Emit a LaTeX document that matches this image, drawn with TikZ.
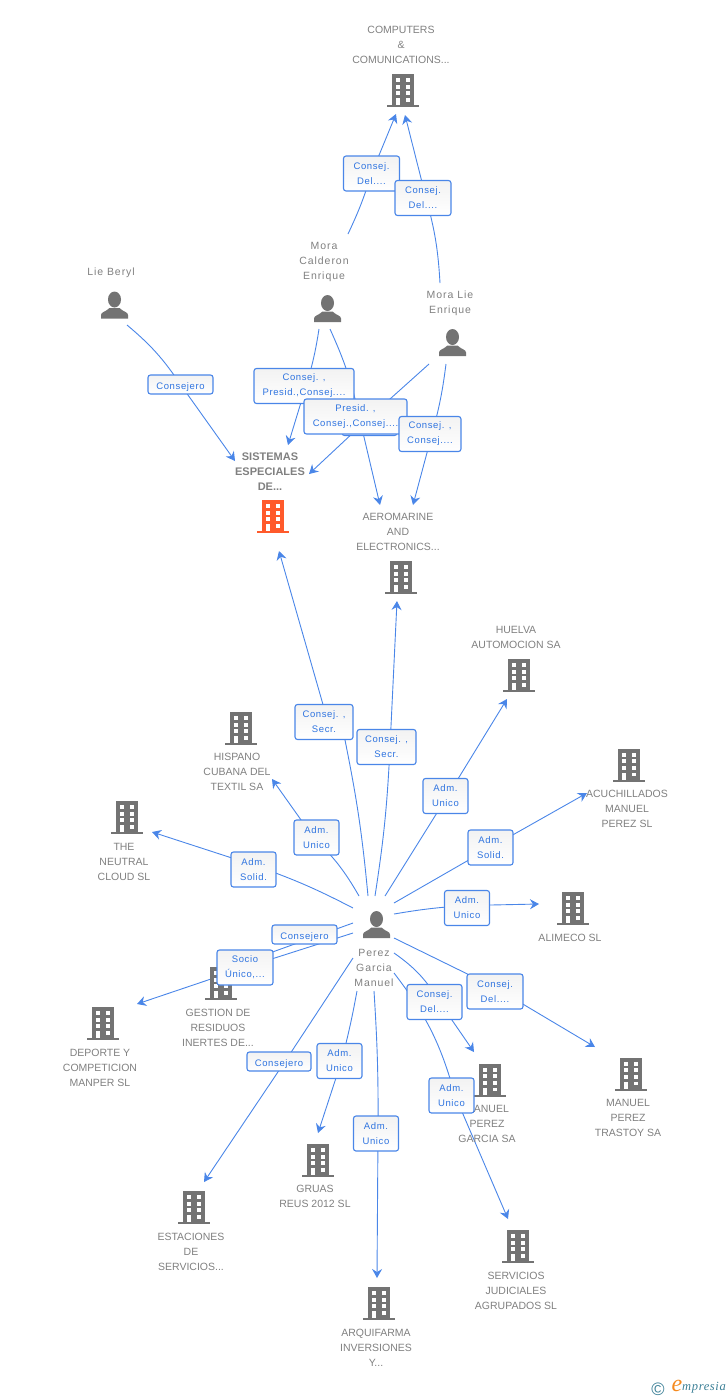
\documentclass[tikz,border=0pt]{standalone}
\usepackage{fontspec}
\setmainfont{Liberation Sans}
\newfontfamily\namefont[LetterSpace=9]{Liberation Sans}
\newfontfamily\rolefont[LetterSpace=6.5]{Liberation Sans}
\newfontfamily\logofont[LetterSpace=5]{Liberation Serif}
\usetikzlibrary{arrows.meta,backgrounds}
\definecolor{linkblue}{HTML}{4A86E8}
\definecolor{roleblue}{HTML}{2F74E0}
\definecolor{icongray}{HTML}{737373}
\definecolor{textgray}{HTML}{808080}
\definecolor{focusred}{HTML}{FF5A2B}
\definecolor{logoteal}{HTML}{3B7F96}
\definecolor{logoorange}{HTML}{F58A1F}
\newcommand{\towericon}[1]{
        \fill[#1] (-11,-16.5) rectangle (11,14.5);
        \fill[#1] (-16,14.5) rectangle (16,16.5);
        \foreach \rowy in {-12.5,-5.8,0.9} {
            \fill[white] (-7.3,\rowy) rectangle +(4.6,4);
            \fill[white] (2.7,\rowy) rectangle +(4.4,4);
        }
        \fill[white] (-7.3,7.6) rectangle (-2.7,14.5);
        \fill[white] (2.7,7.6) rectangle (7.1,11.1);
}
\tikzset{
->,
>={Stealth[length=9pt,width=10pt,inset=3pt]},
company/.style={minimum width=32pt, minimum height=33pt, inner sep=0pt, path picture={\towericon{#1}}},
company/.default=icongray,
person/.style={minimum width=27pt, minimum height=27pt, inner sep=0pt, path picture={
        \fill[icongray] (0,-5.5) ellipse (6.5 and 8);
        \fill[icongray] (-13.5,13.5) -- (-13.5,10) .. controls (-13.5,7) and (-9,7) .. (-5,3) -- (5,3) .. controls (9,7) and (13.5,7) .. (13.5,10) -- (13.5,13.5) -- cycle;
    }},
firm/.style={align=center, inner sep=0pt, yshift=0.3pt, text=textgray, font=\fontsize{10.5}{15}\selectfont},
personname/.style={align=center, inner sep=0pt, text=textgray, font=\namefont\fontsize{10.5}{15}\selectfont},
rolebox/.style={draw=linkblue, line width=1.1pt, rounded corners=2.5pt, top color=black!5, bottom color=white, minimum width=45pt, minimum height=35pt, inner sep=0pt, align=center, text=roleblue, font=\rolefont\fontsize{9.5}{15}\selectfont, execute at begin node={\rule{0pt}{11pt}}},
link/.style={draw=linkblue, line width=0.9pt},
}
\begin{document}
\begin{tikzpicture}[x=1pt,y=-1pt]
        \useasboundingbox (0,0) rectangle (728,1400);

        \node[company] (cc) at (403,90.5) {};
        \node[company=focusred] (sis) at (273,516.5) {};
        \node[company] (aer) at (401,577.5) {};
        \node[company] (hue) at (519,675.5) {};
        \node[company] (acu) at (629,765) {};
        \node[company] (ali) at (573,908.5) {};
        \node[company] (his) at (241,728.5) {};
        \node[company] (neu) at (127,817.5) {};
        \node[company] (ges) at (221,983.5) {};
        \node[company] (dep) at (103,1023.5) {};
        \node[company] (mpg) at (490,1080) {};
        \node[company] (mpt) at (631,1074) {};
        \node[company] (ser) at (518,1246.5) {};
        \node[company] (gru) at (318,1160.5) {};
        \node[company] (est) at (194,1207.5) {};
        \node[company] (arq) at (379,1303.5) {};

        \node[person] (lb) at (114.5,305) {};
        \node[person] (mc) at (327.5,308.5) {};
        \node[person] (ml) at (452.5,342.5) {};
        \node[person] (pm) at (376.5,924.5) {};

        \node[firm] (ccText) at (401,45.5) {COMPUTERS\\\&\\COMUNICATIONS...};
        \node[firm, font=\bfseries\fontsize{11}{15}\selectfont] (sisText) at (270,471.5) {SISTEMAS\\ESPECIALES\\DE...};
        \node[firm] (aerText) at (398,532.5) {AEROMARINE\\AND\\ELECTRONICS...};
        \node[firm] (hueText) at (516,638) {HUELVA\\AUTOMOCION SA};
        \node[firm] (acuText) at (627,809.5) {ACUCHILLADOS\\MANUEL\\PEREZ SL};
        \node[firm] (aliText) at (570,938.5) {ALIMECO SL};
        \node[firm] (hisText) at (237,772.5) {HISPANO\\CUBANA DEL\\TEXTIL SA};
        \node[firm] (neuText) at (124,862.5) {THE\\NEUTRAL\\CLOUD  SL};
        \node[firm] (gesText) at (218,1028.5) {GESTION DE\\RESIDUOS\\INERTES DE...};
        \node[firm] (depText) at (100,1068.5) {DEPORTE Y\\COMPETICION\\MANPER SL};
        \node[firm] (mpgText) at (487,1124.5) {MANUEL\\PEREZ\\GARCIA SA};
        \node[firm] (mptText) at (628,1118.5) {MANUEL\\PEREZ\\TRASTOY SA};
        \node[firm] (serText) at (516,1291.5) {SERVICIOS\\JUDICIALES\\AGRUPADOS SL};
        \node[firm] (gruText) at (315,1197) {GRUAS\\REUS 2012 SL};
        \node[firm] (estText) at (191,1252.5) {ESTACIONES\\DE\\SERVICIOS...};
        \node[firm] (arqText) at (376,1348.5) {ARQUIFARMA\\INVERSIONES\\Y...};

        \node[personname] (lbText) at (111,272.5) {Lie Beryl};
        \node[personname] (mcText) at (324,261.5) {Mora\\Calderon\\Enrique};
        \node[personname] (mlText) at (450,303) {Mora Lie\\Enrique};
        \node[personname] (pmText) at (374,967.5) {Perez\\Garcia\\Manuel};

        \node[rolebox, minimum width=56pt] (bxCcA) at (371.5,173.5) {Consej.\\Del....};
        \node[rolebox, minimum width=56pt] (bxCcB) at (423,198) {Consej.\\Del....};
        \node[rolebox, minimum width=65pt, minimum height=19pt] (bxLb) at (180.5,384.5) {Consejero};
        \node[rolebox, minimum width=100pt] (bxMcS) at (304,386) {Consej. ,\\Presid.,Consej....};
        \node[rolebox, minimum width=55pt] (bxMcA) at (369.5,418) {};
        \node[rolebox, minimum width=103pt] (bxMlS) at (355.5,416.5) {Presid. ,\\Consej.,Consej....};
        \node[rolebox, minimum width=62pt] (bxMlA) at (430,434) {Consej. ,\\Consej....};
        \node[rolebox, minimum width=58pt] (bxSis) at (324,722) {Consej. ,\\Secr.};
        \node[rolebox, minimum width=59pt] (bxAer) at (386.5,747) {Consej. ,\\Secr.};
        \node[rolebox] (bxHis) at (316.5,837.5) {Adm.\\Unico};
        \node[rolebox] (bxNeu) at (253.5,869.5) {Adm.\\Solid.};
        \node[rolebox] (bxHue) at (445.5,796) {Adm.\\Unico};
        \node[rolebox] (bxAcu) at (490.5,847.5) {Adm.\\Solid.};
        \node[rolebox] (bxAli) at (467,908) {Adm.\\Unico};
        \node[rolebox, minimum width=65pt, minimum height=19pt] (bxGes) at (304.5,934.5) {Consejero};
        \node[rolebox, minimum width=56pt] (bxDep) at (245,967.5) {Socio\\Único,...};
        \node[rolebox, minimum width=64pt, minimum height=19pt] (bxEst) at (279,1061.5) {Consejero};
        \node[rolebox] (bxGru) at (339.5,1061) {Adm.\\Unico};
        \node[rolebox] (bxArq) at (376,1133.5) {Adm.\\Unico};
        \node[rolebox, minimum width=55pt] (bxMpg) at (434.5,1002) {Consej.\\Del....};
        \node[rolebox, minimum width=56pt] (bxMpt) at (495,991.5) {Consej.\\Del....};
        \node[rolebox] (bxSer) at (451.5,1095.5) {Adm.\\Unico};

        \node[inner sep=0pt, text=logoteal, font=\fontsize{18}{18}\selectfont] (logoMark) at (658,1389) {©};
        \node[inner sep=0pt, text=logoorange, font=\logofont\itshape\fontsize{24}{24}\selectfont] (logoE) at (677,1386) {e};
        \node[inner sep=0pt, text=logoteal, font=\logofont\itshape\fontsize{12.5}{13}\selectfont] (logoText) at (704,1388) {mpresia};

        \begin{scope}[on background layer]
        \draw[link] ([shift={(20.5,-74.5)}]mc.center) to[bend right=4] (bxCcA.center) to ([shift={(-7,23.5)}]cc.center);
        \draw[link] ([shift={(-12.5,-59.5)}]ml.center) to[bend right=6] ([shift={(3,0)}]bxCcB.center) to ([shift={(2,24.5)}]cc.center);
        \draw[link] ([shift={(12.5,20)}]lb.center) to[bend left=8] (bxLb.center) to ([shift={(-38,-55.5)}]sis.center);
        \draw[link] ([shift={(-8.5,20.5)}]mc.center) to[bend left=4] ([shift={(2,0)}]bxMcS.center) to ([shift={(15,-71.5)}]sis.center);
        \draw[link] ([shift={(2.5,20.5)}]mc.center) to[bend left=6] ([shift={(-10,0)}]bxMcA.center) to ([shift={(-21,-72.5)}]aer.center);
        \draw[link] ([shift={(-23.5,21.5)}]ml.center) to ([shift={(15,0)}]bxMlS.center) to ([shift={(36,-42.5)}]sis.center);
        \draw[link] ([shift={(-6.5,21.5)}]ml.center) to[bend left=4] ([shift={(2,0)}]bxMlA.center) to ([shift={(12,-72.5)}]aer.center);
        \draw[link] ([shift={(-8.5,-28.5)}]pm.center) to[bend right=3] ([shift={(21,0)}]bxSis.south) -- ([shift={(4,0)}]bxSis.center) to ([shift={(6,34.5)}]sis.center);
        \draw[link] ([shift={(-1.5,-28.5)}]pm.center) to[bend right=3] ([shift={(3.5,0)}]bxAer.center) to ([shift={(-4,23.5)}]aer.center);
        \draw[link] ([shift={(-17.5,-28.5)}]pm.center) to[bend right=8] ([shift={(-3,0)}]bxHis.center) to ([shift={(31,50.5)}]his.center);
        \draw[link] ([shift={(-23.5,-16.5)}]pm.center) to[bend right=4] ([shift={(0,-4.5)}]bxNeu.center) to ([shift={(25,14.5)}]neu.center);
        \draw[link] ([shift={(8.5,-28.5)}]pm.center) to ([shift={(2,0)}]bxHue.center) to ([shift={(-12,23.5)}]hue.center);
        \draw[link] ([shift={(17.5,-21.5)}]pm.center) to (bxAcu.center) to ([shift={(-42,28)}]acu.center);
        \draw[link] ([shift={(17.5,-10.5)}]pm.center) to[bend left=3] ([shift={(0,-2.5)}]bxAli.center) to ([shift={(-34,-4.5)}]ali.center);
        \draw[link] ([shift={(-23.5,-1.5)}]pm.center) to ([shift={(0,6)}]bxGes.center) to ([shift={(25,-22)}]ges.center);
        \draw[link] ([shift={(-23.5,8.5)}]pm.center) to (bxDep.center) to ([shift={(34,-19.5)}]dep.center);
        \draw[link] ([shift={(-23.5,33.5)}]pm.center) to ([shift={(6,0)}]bxEst.center) to ([shift={(10,-25.5)}]est.center);
        \draw[link] ([shift={(-19.5,66.5)}]pm.center) to[bend left=2] ([shift={(2,0)}]bxGru.center) to ([shift={(0,-27.5)}]gru.center);
        \draw[link] ([shift={(-2.5,66.5)}]pm.center) to[bend left=2] ([shift={(2,0)}]bxArq.center) to ([shift={(-2,-25.5)}]arq.center);
        \draw[link] ([shift={(17.5,28.5)}]pm.center) to[bend left=12] ([shift={(5,0)}]bxMpg.center) to ([shift={(-16,-28)}]mpg.center);
        \draw[link] ([shift={(17.5,13.5)}]pm.center) to ([shift={(0,-4)}]bxMpt.center) to ([shift={(-36,-27)}]mpt.center);
        \draw[link] ([shift={(17.5,48.5)}]pm.center) to[bend left=11] ([shift={(3.5,0)}]bxSer.center) to ([shift={(-10,-27.5)}]ser.center);
        \end{scope}
    \end{tikzpicture}
\end{document}
